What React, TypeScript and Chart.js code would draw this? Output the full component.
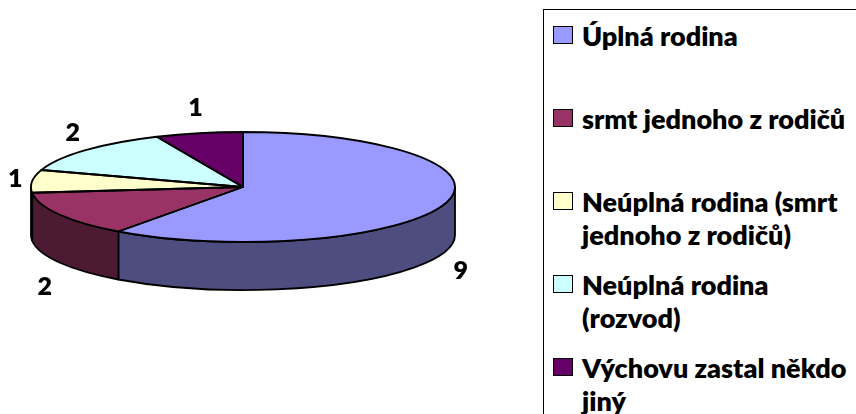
import React, { useEffect, useRef } from "react";
import { Chart, registerables } from "chart.js";

Chart.register(...registerables);

// ---- data ----
const categories = [
  "Úplná rodina",
  "srmt jednoho z rodičů",
  "Neúplná rodina (smrt jednoho z rodičů)",
  "Neúplná rodina (rozvod)",
  "Výchovu zastal někdo jiný",
];
const values = [9, 2, 1, 2, 1];
const topColors = ["#9999FF", "#993366", "#FFFFCC", "#CCFFFF", "#660066"];
const sideColors = ["#4D4D80", "#4D1A33", "#808066", "#668080", "#330033"];

// ---- style constants ----
const RADIUS = 212;
const TILT = 55 / 212;
const DEPTH = 48;
const LABEL_FONT = "800 25px Lato";
const LEGEND_FONT = "800 27px Lato";

const pie3d = {
  id: "pie3d",
  beforeDatasetsDraw(chart: any) {
    const ctx = chart.ctx as CanvasRenderingContext2D;
    const arcs = chart.getDatasetMeta(0).data;
    if (!arcs.length) return;
    const p0 = arcs[0].getProps(["x", "y", "outerRadius"], true);
    const cx = p0.x, cy = p0.y, rx = p0.outerRadius, ry = rx * TILT;
    ctx.save();
    ctx.lineWidth = 1.8;
    ctx.strokeStyle = "#000";
    ctx.lineJoin = "round";
    arcs.forEach((arc: any, i: number) => {
      const p = arc.getProps(["startAngle", "endAngle"], true);
      const a = Math.max(p.startAngle, 0);
      const b = Math.min(p.endAngle, Math.PI);
      if (b <= a) return;
      ctx.beginPath();
      ctx.ellipse(cx, cy, rx, ry, 0, a, b);
      ctx.ellipse(cx, cy + DEPTH, rx, ry, 0, b, a, true);
      ctx.closePath();
      ctx.fillStyle = sideColors[i];
      ctx.fill();
      ctx.stroke();
    });
    ctx.restore();
    // squash the library-drawn pie into an ellipse
    ctx.save();
    ctx.translate(cx, cy);
    ctx.scale(1, TILT);
    ctx.translate(-cx, -cy);
  },
  afterDatasetsDraw(chart: any) {
    const ctx = chart.ctx as CanvasRenderingContext2D;
    const arcs = chart.getDatasetMeta(0).data;
    if (!arcs.length) return;
    ctx.restore();
    const p0 = arcs[0].getProps(["x", "y", "outerRadius"], true);
    const cx = p0.x, cy = p0.y, rx = p0.outerRadius, ry = rx * TILT;
    ctx.save();
    ctx.lineWidth = 1.8;
    ctx.strokeStyle = "#000";
    ctx.lineJoin = "round";
    arcs.forEach((arc: any) => {
      const p = arc.getProps(["startAngle", "endAngle"], true);
      ctx.beginPath();
      ctx.moveTo(cx, cy);
      ctx.lineTo(cx + rx * Math.cos(p.startAngle), cy + ry * Math.sin(p.startAngle));
      ctx.ellipse(cx, cy, rx, ry, 0, p.startAngle, p.endAngle);
      ctx.closePath();
      ctx.stroke();
    });
    // value labels
    ctx.fillStyle = "#000";
    ctx.font = LABEL_FONT;
    ctx.textAlign = "center";
    ctx.textBaseline = "middle";
    const ds = chart.data.datasets[0].data;
    arcs.forEach((arc: any, i: number) => {
      const p = arc.getProps(["startAngle", "endAngle"], true);
      const m = (p.startAngle + p.endAngle) / 2;
      const c = Math.cos(m), s = Math.sin(m);
      const front = s > 0;
      const ex = cx + rx * c;
      const ey = cy + ry * s + (front ? DEPTH : 0);
      const lx = ex + c * 17;
      const ly = ey + s * 26 + (front ? 11 : 0);
      ctx.fillText(String(ds[i]), lx, ly);
    });
    ctx.restore();
  },
};

export default function App() {
  const ref = useRef<HTMLCanvasElement | null>(null);
  useEffect(() => {
    if (!ref.current) return;
    const chart = new Chart(ref.current, {
      type: "pie",
      data: {
        labels: categories,
        datasets: [
          {
            data: values,
            backgroundColor: topColors,
            borderWidth: 0,
            clip: false,
          } as any,
        ],
      },
      options: {
        responsive: false,
        animation: false,
        radius: RADIUS,
        layout: { padding: { left: 0, top: 0, right: 370, bottom: 40 } },
        plugins: {
          legend: { display: false },
          tooltip: { enabled: false },
        },
      } as any,
      plugins: [pie3d],
    });
    return () => chart.destroy();
  }, []);

  return (
    <div
      style={{
        position: "fixed",
        left: 0,
        top: 0,
        width: 856,
        height: 414,
        overflow: "hidden",
        background: "#fff",
      }}
    >
      <canvas ref={ref} width={856} height={414} style={{ position: "absolute", left: 0, top: 0 }} />
      <div
        style={{
          position: "absolute",
          left: 543,
          top: 9,
          width: 340,
          height: 430,
          border: "1.5px solid #000",
          boxSizing: "border-box",
          background: "#fff",
        }}
      >
        {categories.map((c, i) => (
          <div
            key={i}
            style={{ position: "absolute", left: 9, top: 9 + i * 83, display: "flex", alignItems: "flex-start" }}
          >
            <div
              style={{
                width: 20,
                height: 18,
                marginTop: 7,
                background: topColors[i],
                border: "1.5px solid #000",
                boxSizing: "border-box",
                flex: "none",
              }}
            />
            <div
              style={{
                marginLeft: 9,
                width: 280,
                font: LEGEND_FONT,
                lineHeight: "33px",
                color: "#000",
              }}
            >
              {c}
            </div>
          </div>
        ))}
      </div>
    </div>
  );
}
